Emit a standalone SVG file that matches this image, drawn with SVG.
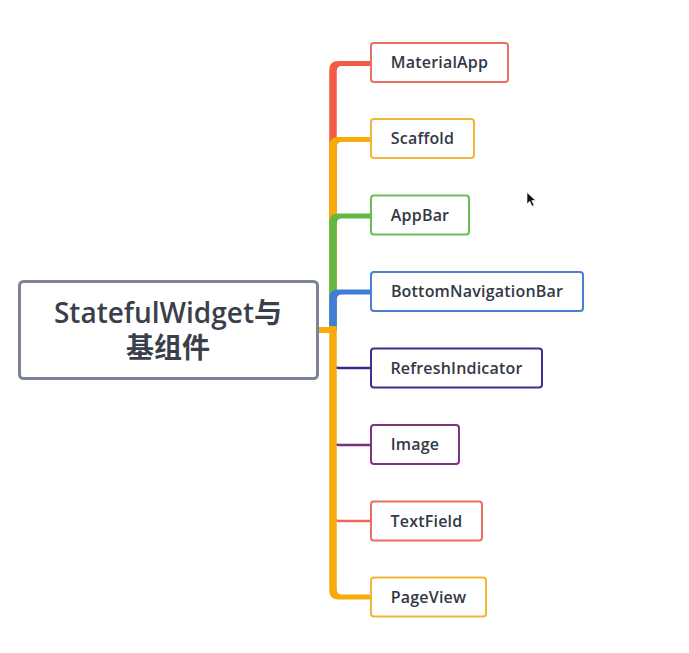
<svg xmlns="http://www.w3.org/2000/svg" width="689" height="653" viewBox="0 0 689 653">
<style>
.box{fill:#fff;stroke-width:2;}
.lbl{font-family:"Open Sans","Noto Sans","Liberation Sans",sans-serif;font-size:16px;font-weight:540;fill:#333846;text-anchor:middle;letter-spacing:0.2px;}
.title{font-family:"Open Sans","Noto Sans CJK SC","Noto Sans","Liberation Sans",sans-serif;font-size:28px;font-weight:600;fill:#3a3f4c;text-anchor:middle;}
.br{fill:none;stroke-linecap:butt;stroke-linejoin:round;}
.thin{stroke-width:2.5;}
</style>
<rect width="689" height="653" fill="#ffffff"/>
<g id="connectors">
  <!-- upper branches (tapered bands) -->
  <path fill="#f25c45" d="M329.25,331 V70 Q329.25,61 338.25,61 H371 V66 H342 Q336.75,66 336.75,71.25 V331 Z"/>
  <path fill="#f8aa0a" d="M329.25,331 V146 Q329.25,137 338.25,137 H371 V142 H342 Q336.75,142 336.75,147.25 V331 Z"/>
  <path fill="#63b844" d="M329.25,331 V222.5 Q329.25,213.5 338.25,213.5 H371 V218.5 H342 Q336.75,218.5 336.75,223.75 V331 Z"/>
  <path fill="#3f7dd6" d="M329.25,331 V298.5 Q329.25,289.5 338.25,289.5 H371 V294.5 H342 Q336.75,294.5 336.75,299.75 V331 Z"/>
  <!-- lower branches -->
  <path class="br thin" stroke="#3b2a8a" d="M333,330 V362 Q333,368 339,368 H371"/>
  <path class="br thin" stroke="#7b2f7e" d="M333,330 V439 Q333,445 339,445 H371"/>
  <path class="br thin" stroke="#e9685c" d="M333,330 V515 Q333,521 339,521 H371"/>
  <path fill="#f8aa0a" d="M329.25,326 V590.5 Q329.25,599.5 338.25,599.5 H371 V594.5 H342 Q336.75,594.5 336.75,589.25 V326 Z"/>
  <!-- root stub -->
  <path class="br" stroke="#f8aa0a" stroke-width="6" d="M318,330 H334"/>
</g>
<g id="root">
  <rect x="19.5" y="281.5" width="298" height="97" rx="4" fill="#fff" stroke="#7d8497" stroke-width="3"/>
  <text class="title" x="168" y="323">StatefulWidget与</text>
  <text class="title" x="168" y="358">基组件</text>
</g>
<g id="n-materialapp">
  <rect class="box" x="371" y="43" width="137" height="39" rx="3" stroke="#ea7064"/>
  <text class="lbl" x="439.5" y="68">MaterialApp</text>
</g>
<g id="n-scaffold">
  <rect class="box" x="371" y="119" width="103" height="39" rx="3" stroke="#f2b632"/>
  <text class="lbl" x="422.5" y="144">Scaffold</text>
</g>
<g id="n-appbar">
  <rect class="box" x="371" y="195.5" width="98" height="39" rx="3" stroke="#6cbd52"/>
  <text class="lbl" x="420" y="220.5">AppBar</text>
</g>
<g id="n-bottomnav">
  <rect class="box" x="371" y="272" width="212" height="39" rx="3" stroke="#4b80d0"/>
  <text class="lbl" x="477" y="297">BottomNavigationBar</text>
</g>
<g id="n-refresh">
  <rect class="box" x="371" y="348.5" width="171" height="39" rx="3" stroke="#3f2f8b"/>
  <text class="lbl" x="456.5" y="373.5">RefreshIndicator</text>
</g>
<g id="n-image">
  <rect class="box" x="371" y="425" width="88" height="39" rx="3" stroke="#7f347f"/>
  <text class="lbl" x="415" y="450">Image</text>
</g>
<g id="n-textfield">
  <rect class="box" x="371" y="501.5" width="111" height="39" rx="3" stroke="#e96d61"/>
  <text class="lbl" x="426.5" y="526.5">TextField</text>
</g>
<g id="n-pageview">
  <rect class="box" x="371" y="577.5" width="115" height="39" rx="3" stroke="#f3b532"/>
  <text class="lbl" x="428.5" y="602.5">PageView</text>
</g>
<path d="M527,192.5 L527,204 L529.8,201.3 L532,206.3 L534,205.4 L531.8,200.5 L535.6,200.5 Z" fill="#111" stroke="#fff" stroke-width="0.6"/>
</svg>
